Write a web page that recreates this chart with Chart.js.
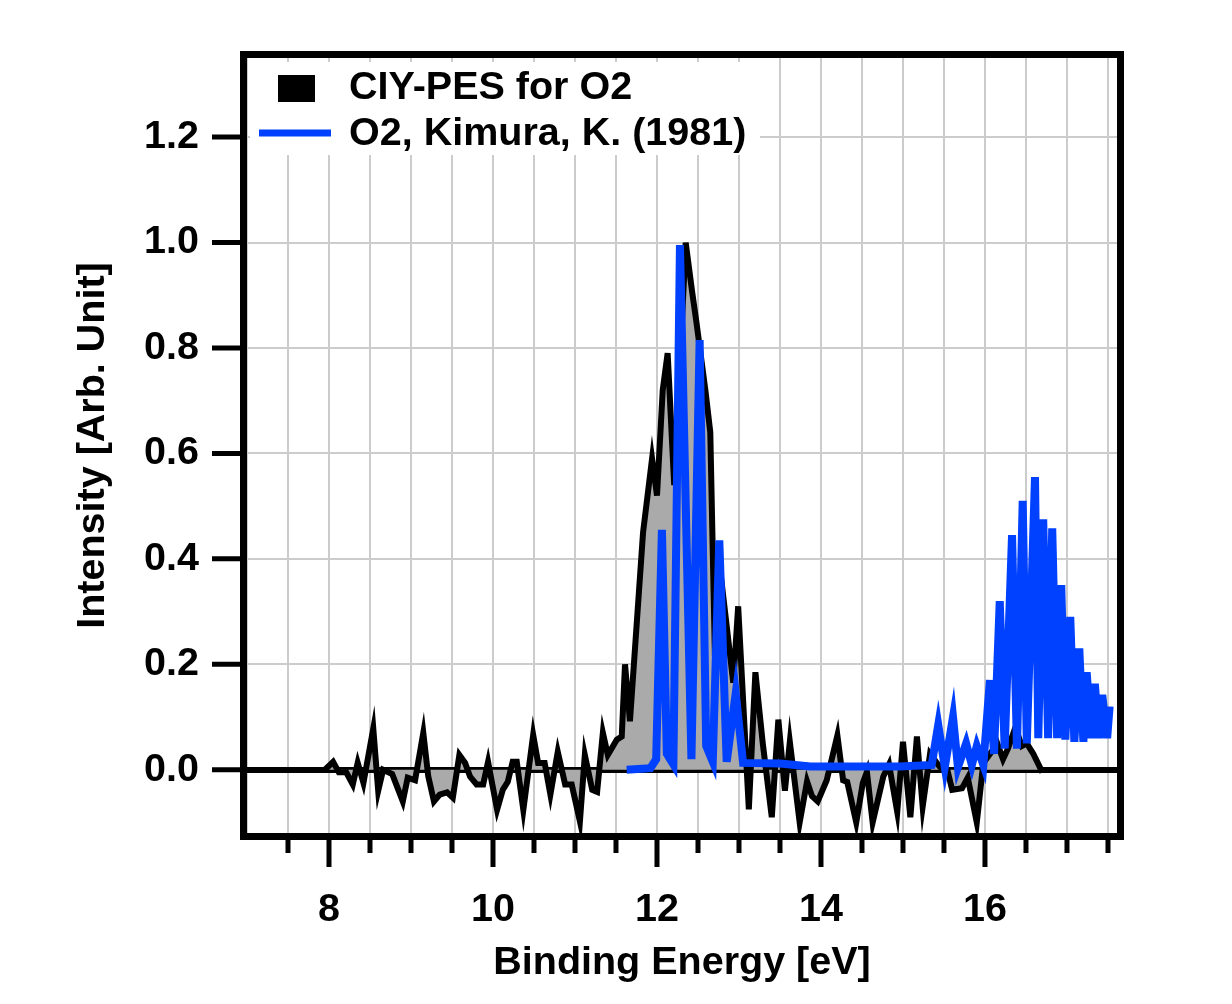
<!DOCTYPE html>
<html>
<head>
<meta charset="utf-8">
<script src="https://cdn.jsdelivr.net/npm/chart.js@4.4.1/dist/chart.umd.min.js"></script>
<style>
  html, body { margin: 0; padding: 0; background: #fff; }
  canvas { display: block; }
</style>
</head>
<body>
<canvas id="pes-chart" width="1232" height="1004"></canvas>
<script>
// CIY-PES spectrum (black line, grey fill)
const ciyEnergy = [
    7.95, 8.05, 8.12, 8.21, 8.29, 8.35, 8.42, 8.54, 8.60, 8.66,
    8.77, 8.90, 8.96, 9.05, 9.15, 9.21, 9.28, 9.35, 9.44, 9.51,
    9.59, 9.66, 9.72, 9.80, 9.88, 9.94, 10.05, 10.12, 10.18, 10.24,
    10.29, 10.37, 10.49, 10.55, 10.63, 10.70, 10.79, 10.88, 10.96, 11.06,
    11.12, 11.21, 11.27, 11.34, 11.40, 11.51, 11.57, 11.61, 11.67, 11.83,
    11.94, 12.00, 12.07, 12.13, 12.21, 12.35, 12.43, 12.48, 12.59, 12.65,
    12.70, 12.80, 12.93, 12.99, 13.12, 13.20, 13.29, 13.40, 13.48, 13.56,
    13.62, 13.74, 13.83, 13.89, 13.96, 14.07, 14.20, 14.27, 14.32, 14.43,
    14.51, 14.56, 14.63, 14.76, 14.83, 14.93, 15.00, 15.09, 15.17, 15.24,
    15.33, 15.45, 15.54, 15.60, 15.72, 15.79, 15.90, 15.98, 16.06, 16.15,
    16.22, 16.28, 16.37, 16.45, 16.51, 16.59, 16.70
];
const ciyIntensity = [
    0.0, 0.015, -0.005, -0.005, -0.028, 0.013, -0.025, 0.078, -0.04, 0.0,
    -0.008, -0.06, -0.015, -0.02, 0.07, -0.012, -0.06, -0.047, -0.043, -0.053,
    0.028, 0.013, -0.013, -0.028, -0.028, 0.015, -0.076, -0.038, -0.023, 0.015,
    0.015, -0.076, 0.066, 0.013, 0.013, -0.047, 0.034, -0.028, -0.028, -0.098,
    0.028, -0.038, -0.042, 0.07, 0.028, 0.057, 0.063, 0.20, 0.092, 0.45,
    0.59, 0.52, 0.72, 0.79, 0.54, 1.0, 0.905, 0.85, 0.72, 0.64,
    0.265, 0.34, 0.165, 0.31, -0.075, 0.185, 0.05, -0.09, 0.095, -0.04,
    0.053, -0.1, -0.022, -0.05, -0.06, -0.02, 0.065, -0.02, -0.023, -0.1,
    -0.025, -0.004, -0.1, -0.013, 0.01, -0.08, 0.053, -0.09, 0.063, -0.07,
    0.03, 0.005, 0.0, -0.038, -0.035, -0.015, -0.1, 0.013, 0.03, 0.05,
    0.02, 0.04, 0.08, 0.045, 0.05, 0.03, -0.005
];

// Reference spectrum, O2, Kimura (1981) - blue line
const kimuraEnergy = [
    11.63, 11.92, 11.99, 12.06, 12.12, 12.20, 12.28, 12.42, 12.52, 12.60,
    12.68, 12.76, 12.85, 12.96, 13.05, 13.50, 13.87, 14.96, 15.35, 15.43,
    15.51, 15.61, 15.67, 15.77, 15.84, 15.90, 15.98, 16.06, 16.11, 16.18,
    16.24, 16.33, 16.39, 16.46, 16.51, 16.61, 16.65, 16.71, 16.77, 16.82,
    16.88, 16.93, 16.98, 17.04, 17.09, 17.15, 17.20, 17.24, 17.30, 17.34,
    17.39, 17.43, 17.49, 17.52
];
const kimuraIntensity = [
    0.0, 0.003, 0.02, 0.455, 0.03, 0.01, 0.995, 0.02, 0.815, 0.045,
    0.015, 0.435, 0.015, 0.145, 0.013, 0.012, 0.006, 0.006, 0.009, 0.085,
    0.005, 0.10, 0.005, 0.05, 0.009, 0.045, 0.009, 0.17, 0.03, 0.32,
    0.04, 0.445, 0.04, 0.51, 0.05, 0.555, 0.06, 0.475, 0.06, 0.458,
    0.06, 0.35, 0.057, 0.29, 0.053, 0.23, 0.053, 0.185, 0.06, 0.163,
    0.06, 0.142, 0.06, 0.12
];

// Axis ticks
const xTicks = [7, 7.5, 8, 8.5, 9, 9.5, 10, 10.5, 11, 11.5, 12, 12.5, 13, 13.5, 14, 14.5, 15, 15.5, 16, 16.5, 17, 17.5];
const xLabelTicks = [8, 10, 12, 14, 16];
const yTicks = [0, 0.2, 0.4, 0.6, 0.8, 1.0, 1.2];

const FONT = "'Liberation Sans', Arial, sans-serif";
const FONT_SIZE = 39.5;
Chart.defaults.font.family = FONT;
Chart.defaults.color = '#000';

// Thick frame plus outside tick marks (long at labelled x values)
const frameAndTicks = {
    id: 'frameAndTicks',
    afterDraw(chart) {
        const { ctx, chartArea: a, scales: { x, y } } = chart;
        ctx.save();
        ctx.strokeStyle = '#000';
        ctx.lineWidth = 7;
        ctx.strokeRect(a.left - 3.5, a.top - 3.5, a.right - a.left + 7, a.bottom - a.top + 7);
        ctx.lineWidth = 5;
        ctx.beginPath();
        xTicks.forEach(v => {
            if (v <= x.min) return;
            const px = x.getPixelForValue(v);
            const len = xLabelTicks.includes(v) ? 28 : 14;
            ctx.moveTo(px, a.bottom + 6);
            ctx.lineTo(px, a.bottom + 6 + len);
        });
        yTicks.forEach(v => {
            const py = y.getPixelForValue(v);
            ctx.moveTo(a.left - 7, py);
            ctx.lineTo(a.left - 35, py);
        });
        ctx.stroke();
        ctx.restore();
    }
};

// Legend drawn inside the plot, top left, on a white box
const insideLegend = {
    id: 'insideLegend',
    afterDatasetsDraw(chart) {
        const { ctx, chartArea: a } = chart;
        const ds = chart.data.datasets;
        ctx.save();
        ctx.fillStyle = '#fff';
        ctx.fillRect(a.left + 3, a.top + 4, 510, 93);

        ctx.fillStyle = ds[0].borderColor;
        ctx.fillRect(a.left + 31, a.top + 17, 37, 27);

        ctx.strokeStyle = ds[1].borderColor;
        ctx.lineWidth = 7;
        ctx.beginPath();
        ctx.moveTo(a.left + 12, a.top + 75);
        ctx.lineTo(a.left + 84, a.top + 75);
        ctx.stroke();

        ctx.fillStyle = '#000';
        ctx.font = 'bold ' + FONT_SIZE + 'px ' + FONT;
        ctx.textBaseline = 'middle';
        ctx.textAlign = 'left';
        ctx.fillText(ds[0].label, a.left + 102, a.top + 30);
        ctx.fillText(ds[1].label, a.left + 102, a.top + 76);
        ctx.restore();
    }
};

const ctx = document.getElementById('pes-chart').getContext('2d');
new Chart(ctx, {
    type: 'line',
    data: {
        datasets: [
            {
                label: 'CIY-PES for O2',
                data: ciyEnergy.map((e, i) => ({ x: e, y: ciyIntensity[i] })),
                borderColor: '#000000',
                backgroundColor: '#aaaaaa',
                borderWidth: 6,
                fill: 'origin',
                pointRadius: 0,
                tension: 0,
                order: 1,
            },
            {
                label: 'O2, Kimura, K. (1981)',
                data: kimuraEnergy.map((e, i) => ({ x: e, y: kimuraIntensity[i] })),
                borderColor: '#0040ff',
                borderWidth: 8,
                fill: false,
                pointRadius: 0,
                tension: 0,
                order: 0,
            },
        ],
    },
    options: {
        responsive: false,
        animation: false,
        devicePixelRatio: 1,
        layout: { padding: { top: 58, right: 115, left: 0, bottom: 0 } },
        plugins: {
            legend: { display: false },
            tooltip: { enabled: false },
        },
        scales: {
            x: {
                type: 'linear',
                min: 7.0,
                max: 17.61,
                afterFit: s => { s.height = 171; s.paddingLeft = 0; s.paddingRight = 0; },
                afterBuildTicks: s => { s.ticks = xTicks.map(v => ({ value: v })); },
                grid: { color: '#cccccc', lineWidth: 2, drawTicks: false },
                border: { display: false },
                ticks: {
                    autoSkip: false,
                    maxRotation: 0,
                    padding: 53,
                    font: { size: FONT_SIZE, weight: 'bold' },
                    callback: v => xLabelTicks.includes(v) ? String(v) : '',
                },
                title: {
                    display: true,
                    text: 'Binding Energy [eV]',
                    font: { size: FONT_SIZE, weight: 'bold' },
                    padding: { top: 0, bottom: 17 },
                },
            },
            y: {
                type: 'linear',
                min: -0.12,
                max: 1.35,
                afterFit: s => { s.width = 247; s.paddingTop = 0; s.paddingBottom = 0; },
                afterBuildTicks: s => { s.ticks = yTicks.map(v => ({ value: v })); },
                grid: {
                    color: c => c.tick && c.tick.value === 0 ? '#000000' : '#cccccc',
                    lineWidth: c => c.tick && c.tick.value === 0 ? 6 : 2,
                    drawTicks: false,
                },
                border: { display: false },
                ticks: {
                    padding: 48,
                    font: { size: FONT_SIZE, weight: 'bold' },
                    callback: v => v.toFixed(1),
                },
                title: {
                    display: true,
                    text: 'Intensity [Arb. Unit]',
                    font: { size: FONT_SIZE, weight: 'bold' },
                    padding: { top: 69, bottom: 0 },
                },
            },
        },
    },
    plugins: [insideLegend, frameAndTicks],
});
</script>
</body>
</html>
